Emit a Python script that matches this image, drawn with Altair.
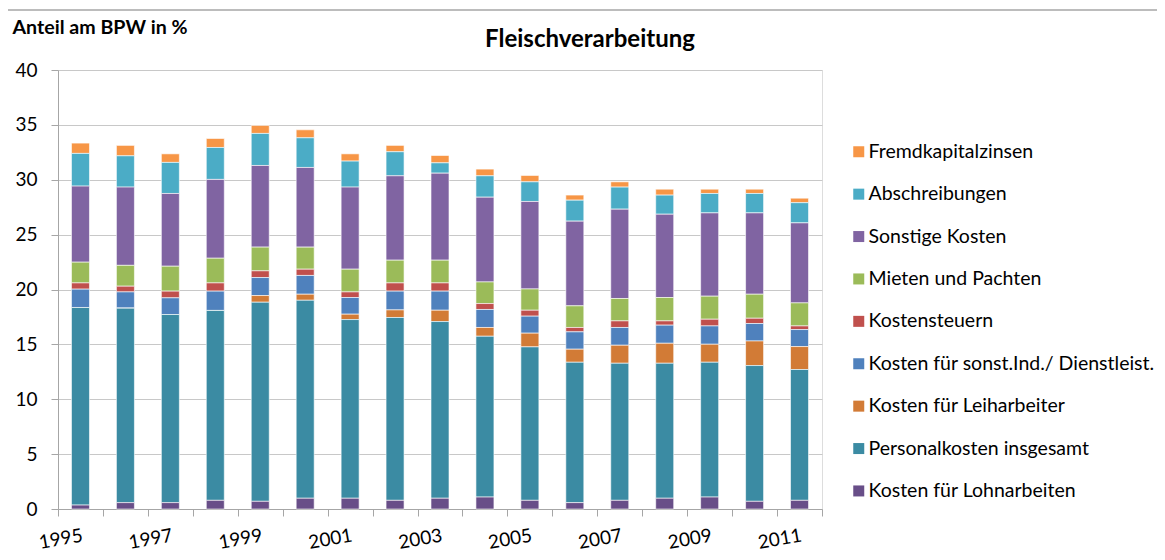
import altair as alt
import pandas as pd

years = list(range(1995, 2012))

series_names = [
    "Fremdkapitalzinsen",
    "Abschreibungen",
    "Sonstige Kosten",
    "Mieten und Pachten",
    "Kostensteuern",
    "Kosten für sonst.Ind./ Dienstleist.",
    "Kosten für Leiharbeiter",
    "Personalkosten insgesamt",
    "Kosten für Lohnarbeiten",
]
series_colors = ["#F79646", "#4BACC6", "#8064A2", "#9BBB59", "#C0504D",
                 "#4F81BD", "#D27B36", "#3B8BA3", "#684E88"]

lohn = [0.36, 0.58, 0.58, 0.79, 0.70, 0.98, 0.98, 0.79, 0.98, 1.09, 0.79, 0.58, 0.79, 0.98, 1.09, 0.70, 0.79]
personal = [18.00, 17.72, 17.14, 17.30, 18.14, 18.04, 16.28, 16.66, 16.10, 14.65, 13.98, 12.79, 12.49, 12.30, 12.28, 12.37, 11.92]
leih = [0.00, 0.00, 0.00, 0.00, 0.61, 0.55, 0.49, 0.69, 1.03, 0.80, 1.25, 1.19, 1.64, 1.82, 1.64, 2.24, 2.09]
sonst_ind = [1.67, 1.48, 1.52, 1.76, 1.64, 1.71, 1.52, 1.71, 1.74, 1.64, 1.55, 1.58, 1.62, 1.65, 1.67, 1.59, 1.55]
kostensteuern = [0.57, 0.52, 0.61, 0.75, 0.61, 0.57, 0.51, 0.75, 0.75, 0.54, 0.54, 0.40, 0.60, 0.39, 0.61, 0.48, 0.33]
mieten = [1.89, 1.90, 2.27, 2.25, 2.16, 2.01, 2.07, 2.07, 2.07, 1.97, 1.94, 1.97, 2.04, 2.13, 2.10, 2.19, 2.10]
sonstige = [6.93, 7.13, 6.63, 7.18, 7.44, 7.26, 7.48, 7.69, 7.93, 7.72, 7.97, 7.72, 8.14, 7.59, 7.59, 7.41, 7.29]
abschreibungen = [2.98, 2.85, 2.83, 2.91, 2.92, 2.70, 2.37, 2.19, 0.94, 1.95, 1.79, 1.91, 2.01, 1.74, 1.77, 1.77, 1.84]
fremd = [0.94, 0.95, 0.78, 0.82, 0.73, 0.73, 0.66, 0.58, 0.67, 0.61, 0.58, 0.46, 0.48, 0.54, 0.39, 0.39, 0.41]

series_values = [fremd, abschreibungen, sonstige, mieten, kostensteuern,
                 sonst_ind, leih, personal, lohn]

rows = []
for idx, (name, vals) in enumerate(zip(series_names, series_values)):
    for y, v in zip(years, vals):
        rows.append({"Jahr": y, "Kategorie": name, "Wert": v,
                     "Stapel": len(series_names) - 1 - idx})
df = pd.DataFrame(rows)

FONT = "Lato"

bars = alt.Chart(df).mark_bar(size=18, stroke="white", strokeWidth=0.6).encode(
    x=alt.X("Jahr:O",
            scale=alt.Scale(paddingInner=0, paddingOuter=0),
            axis=alt.Axis(title=None, labelAngle=-10, labelAlign="right",
                          labelBaseline="top", labelPadding=10,
                          labelExpr="datum.value % 2 == 1 ? datum.label : ''",
                          tickBand="extent", tickSize=7, tickColor="#A6A6A6",
                          domainColor="#A6A6A6", labelFontSize=19,
                          labelFont=FONT, labelColor="#000000", grid=False)),
    y=alt.Y("Wert:Q", stack="zero",
            scale=alt.Scale(domain=[0, 40], nice=False),
            axis=alt.Axis(title="Anteil am BPW in %", titleAngle=0,
                          titleX=-46, titleY=-43, titleAlign="left",
                          titleBaseline="middle", titleFontSize=19.6,
                          titleFontWeight="bold", titleFont=FONT,
                          titleColor="#000000",
                          values=[0, 5, 10, 15, 20, 25, 30, 35, 40],
                          labelFontSize=19, labelFont=FONT, labelColor="#000000",
                          labelPadding=14, tickSize=7, tickColor="#A6A6A6",
                          domainColor="#A6A6A6", gridColor="#C8C8C8")),
    color=alt.Color("Kategorie:N",
                    scale=alt.Scale(domain=series_names, range=series_colors),
                    legend=alt.Legend(title=None, orient="none",
                                      legendX=791, legendY=72,
                                      symbolType="square", symbolSize=121,
                                      symbolStrokeWidth=0,
                                      labelFontSize=19.5, labelFont=FONT,
                                      labelColor="#000000", labelOffset=0,
                                      rowPadding=21.4, labelLimit=400)),
    order=alt.Order("Stapel:Q", sort="ascending"),
)

frame = alt.Chart(pd.DataFrame({"f": [0]})).mark_rect(
    fill=None, stroke="#A6A6A6", strokeWidth=1.5, clip=False
).encode(
    x=alt.value(-51), x2=alt.value(1150),
    y=alt.value(-60), y2=alt.value(520),
)

chart = alt.layer(frame, bars).properties(
    width=764, height=439,
    title=alt.TitleParams("Fleischverarbeitung", fontSize=24, font=FONT,
                          fontWeight="bold", color="#000000",
                          anchor="middle", frame="group", dx=150, dy=57,
                          offset=14),
    padding={"left": 50, "top": 62, "right": 335, "bottom": 43},
    autosize=alt.AutoSizeParams(type="none"),
).configure_view(stroke=None).configure(background="white")

chart.save("out.html", embed_options={"renderer": "svg", "actions": False})
